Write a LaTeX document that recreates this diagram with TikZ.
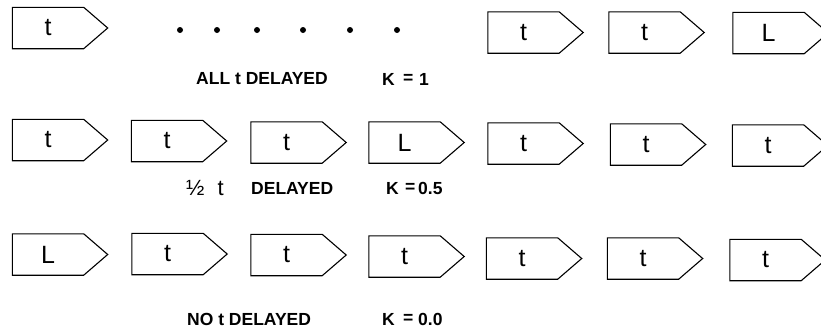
\documentclass[tikz,border=0pt]{standalone}
\usepackage{fontspec}
\setmainfont{Liberation Sans}
\begin{document}
\begin{tikzpicture}[x=1pt,y=-1pt,
  cell/.style={minimum width=71pt, minimum height=41pt, inner sep=0pt,
    font=\fontsize{25}{27}\selectfont},
  outline/.style={draw=black, line width=1.1pt, line join=miter},
  lbl/.style={anchor=west, inner sep=0pt, font=\fontsize{17.5}{19}\selectfont\bfseries},
  half/.style={anchor=west, inner sep=0pt, font=\fontsize{22}{24}\selectfont},
  dotmark/.style={fill=black, draw=none, circle, minimum size=6pt, inner sep=0pt}
]
\clip (0,0) rectangle (821,335);
\fill[white] (0,0) rectangle (821,335);

% boxes: name / cx / cy / text
\foreach \nm/\cx/\cy/\tx in {
  a1/48/28/t, a2/523.5/32.5/t, a3/644.5/32.5/t, a4/768.5/33/L,
  b1/48/140/t, b2/167/141/t, b3/286.5/142.5/t, b4/404.5/142.5/L,
  b5/523.5/143.5/t, b6/646/144.5/t, b7/768/145.5/t,
  c1/48/254.5/L, c2/167.5/254/t, c3/286.5/255/t, c4/404.5/256.5/t,
  c5/522/258.5/t, c6/643/258.5/t, c7/765.5/260/t}{
  \node[cell] (\nm) at (\cx,\cy) {\tx};
  \draw[outline] (\nm.north west) -- (\nm.north east)
     -- ([xshift=24pt]\nm.east) -- (\nm.south east)
     -- (\nm.south west) -- cycle;
}

% dots of row 1
\foreach \i/\x in {1/180, 2/217, 3/257, 4/303, 5/350, 6/397}{
  \node[dotmark] (dot\i) at (\x,30) {};
}

% labels
\node[lbl] (l1) at (196,79) {ALL t DELAYED};
\node[lbl] (k1) at (382,79) {K};
\node[lbl] (e1) at (403,79) {=};
\node[lbl] (v1) at (419,79) {1};

\node[half] (h2) at (186,188) {½\hspace{13pt}t};
\node[lbl] (l2) at (251,188) {DELAYED};
\node[lbl] (k2) at (386,188) {K};
\node[lbl] (e2) at (405,188) {=};
\node[lbl] (v2) at (418,188) {0.5};

\node[lbl] (l3) at (187,319) {NO t DELAYED};
\node[lbl] (k3) at (382,319) {K};
\node[lbl] (e3) at (403,319) {=};
\node[lbl] (v3) at (418,319) {0.0};
\end{tikzpicture}
\end{document}
